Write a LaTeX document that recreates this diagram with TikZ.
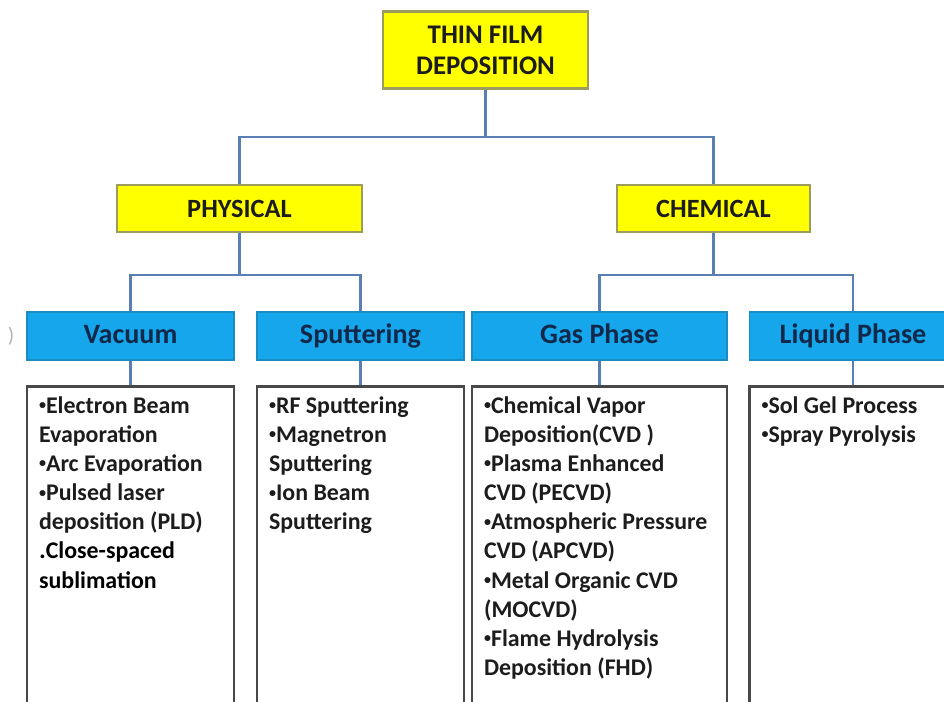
\documentclass[tikz,border=0pt]{standalone}
\usepackage{fontspec}
\setmainfont{Carlito}
\usetikzlibrary{positioning}
\definecolor{tfyellow}{HTML}{FFFF00}
\definecolor{tfyellowline}{HTML}{9C9C5C}
\definecolor{tfblue}{HTML}{16A6EC}
\definecolor{tfblueline}{HTML}{1A8CC4}
\definecolor{tfnavy}{HTML}{12284A}
\definecolor{tflink}{HTML}{5A7FB5}
\definecolor{tfgray}{HTML}{484848}
\definecolor{tftext}{HTML}{1C1C1C}
\newcommand{\itm}{\raisebox{0.3ex}{\fontsize{8}{8}\selectfont•}}

\begin{document}
\begin{tikzpicture}[
    x=0.02cm, y=-0.02cm,
    every node/.style={font=\bfseries},
    yellowbox/.style={draw=tfyellowline, line width=1.2pt, fill=tfyellow,
        text=tftext, inner sep=0pt, align=center},
    bluebox/.style={draw=tfblueline, line width=0.8pt, fill=tfblue, text=tfnavy,
        minimum width=4.14cm, minimum height=0.96cm, inner sep=0pt,
        text height=11.5pt, text depth=3.5pt,
        font=\bfseries\fontsize{16}{19}\selectfont},
    listbox/.style={draw=tfgray, line width=1.5pt, minimum width=4.14cm,
        minimum height=6.6cm, anchor=north, inner sep=0pt},
    listtext/.style={anchor=north west, align=left, text=tftext, inner sep=0pt,
        font=\bfseries\fontsize{13.6}{16.6}\selectfont},
    link/.style={draw=tflink, line width=1.6pt},
]
\useasboundingbox (0,0) rectangle (944,702);
\clip (0,0) rectangle (944,702);

% root and the two families
\node[yellowbox, minimum width=4.1cm, minimum height=1.54cm,
      font=\bfseries\fontsize{15.3}{17.6}\selectfont] (root) at (485.5,50)
   {THIN FILM\\DEPOSITION};
\node[yellowbox, minimum width=4.9cm, minimum height=0.94cm,
      font=\bfseries\fontsize{15}{18}\selectfont] (phys) at (239.5,208.5) {PHYSICAL};
\node[yellowbox, minimum width=3.86cm, minimum height=0.94cm,
      font=\bfseries\fontsize{15}{18}\selectfont] (chem) at (713.5,208.5) {CHEMICAL};

% second level headers
\node[bluebox] (vac)  at (130.5,336) {Vacuum};
\node[bluebox] (sput) at (360.5,336) {Sputtering};
\node[bluebox, minimum width=5.1cm] (gas) at (599.5,336) {Gas Phase};
\node[bluebox] (liq)  at (853,336) {Liquid Phase};
\node[text=gray!60, font=\fontsize{12}{14}\selectfont] (mark) at (11,336) {)};

% list boxes, open towards the bottom edge
\node[listbox] (vacbox)  at (vac.south |- 0,385) {};
\node[listbox] (sputbox) at (sput.south |- 0,385) {};
\node[listbox, minimum width=5.1cm] (gasbox) at (gas.south |- 0,385) {};
\node[listbox] (liqbox)  at (liq.south |- 0,385) {};

\node[listtext] (vaclist) at ([shift={(13,11)}]vacbox.north west)
   {\itm Electron Beam\\Evaporation\\\itm Arc Evaporation\\\itm Pulsed laser\\deposition (PLD)\\
    {\color{black}\Large.}\color{black}Close-spaced\\\color{black}sublimation};
\node[listtext] (sputlist) at ([shift={(13,11)}]sputbox.north west)
   {\itm RF Sputtering\\\itm Magnetron\\Sputtering\\\itm Ion Beam\\Sputtering};
\node[listtext] (gaslist) at ([shift={(13,11)}]gasbox.north west)
   {\itm Chemical Vapor\\Deposition(CVD )\\\itm Plasma Enhanced\\CVD (PECVD)\\
    \itm Atmospheric Pressure\\CVD (APCVD)\\\itm Metal Organic CVD\\(MOCVD)\\
    \itm Flame Hydrolysis\\Deposition (FHD)};
\node[listtext] (liqlist) at ([shift={(13,11)}]liqbox.north west)
   {\itm Sol Gel Process\\\itm Spray Pyrolysis};

% tree connectors
\coordinate (split) at (root.south |- 0,137);
\draw[link] (root.south) -- (split) -| (phys.north);
\draw[link] (split) -| (chem.north);
\coordinate (physsplit) at (phys.south |- 0,275);
\draw[link] (phys.south) -- (physsplit) -| (vac.north);
\draw[link] (physsplit) -| (sput.north);
\coordinate (chemsplit) at (chem.south |- 0,275);
\draw[link] (chem.south) -- (chemsplit) -| (gas.north);
\draw[link] (chemsplit) -| (liq.north);
\foreach \h/\b in {vac/vacbox, sput/sputbox, gas/gasbox, liq/liqbox}
   \draw[link] (\h.south) -- (\b.north);
\end{tikzpicture}
\end{document}
